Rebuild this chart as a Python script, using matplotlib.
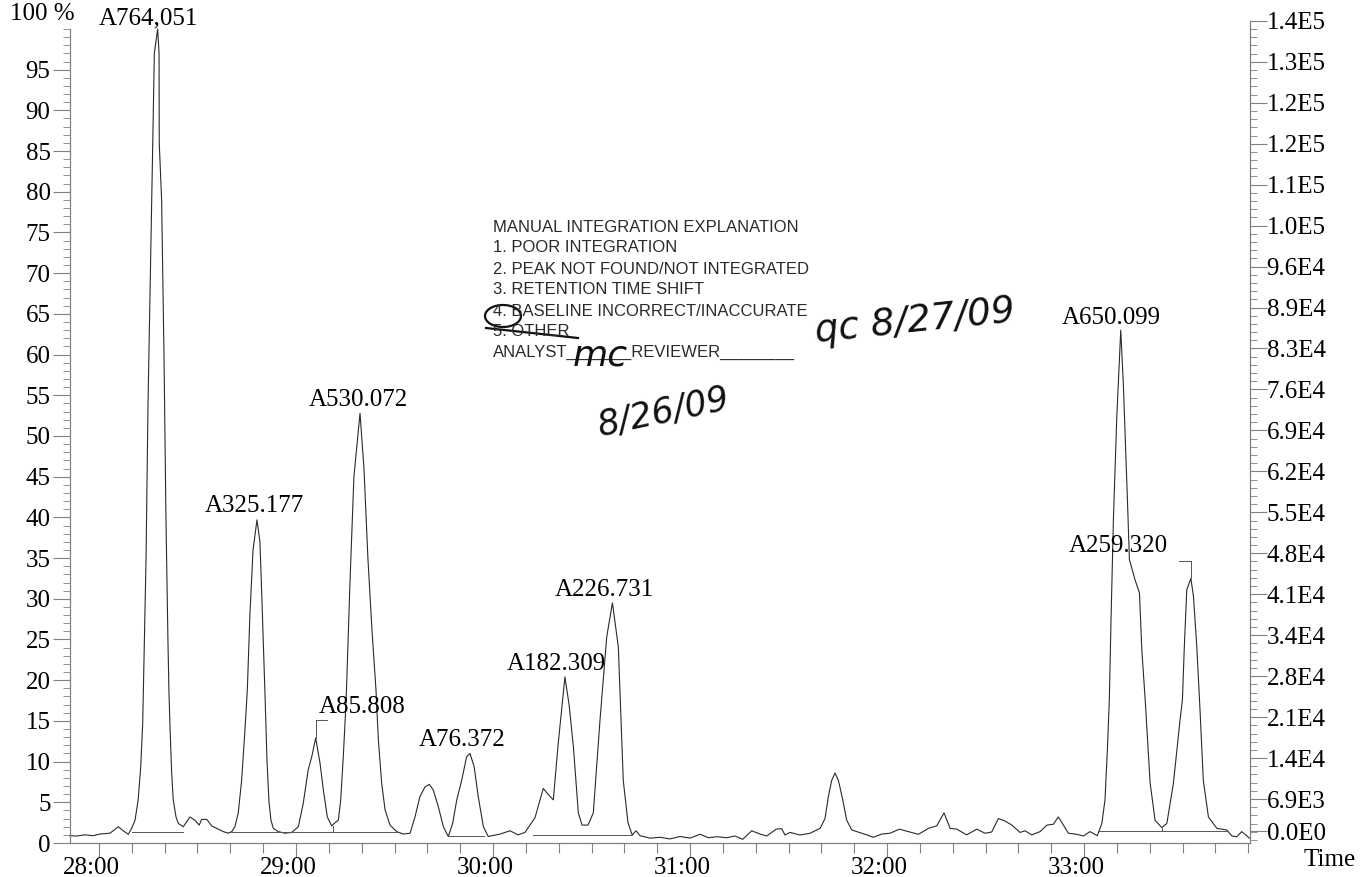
import numpy as np
import matplotlib
matplotlib.use("Agg")
import matplotlib.pyplot as plt
from matplotlib.patches import Ellipse
from matplotlib.transforms import ScaledTranslation

plt.rcParams['font.family'] = ['Liberation Serif', 'DejaVu Serif']

# chromatogram trace, time in minutes, intensity in % of the largest peak
time_min = [
    27.853, 27.887, 27.929, 27.971, 28.005, 28.056, 28.098, 28.123, 28.149, 28.166,
    28.183, 28.199, 28.212, 28.222, 28.239, 28.249, 28.268, 28.273, 28.281, 28.298,
    28.305, 28.306, 28.318, 28.330, 28.340, 28.350, 28.355, 28.360, 28.369, 28.377,
    28.391, 28.403, 28.428, 28.462, 28.487, 28.509, 28.521, 28.547, 28.572, 28.597,
    28.631, 28.656, 28.674, 28.690, 28.707, 28.724, 28.741, 28.753, 28.766, 28.782,
    28.802, 28.817, 28.827, 28.843, 28.853, 28.863, 28.873, 28.885, 28.910, 28.944,
    28.978, 29.012, 29.037, 29.062, 29.080, 29.100, 29.122, 29.139, 29.159, 29.181,
    29.198, 29.215, 29.227, 29.240, 29.254, 29.274, 29.294, 29.325, 29.345, 29.365,
    29.386, 29.406, 29.418, 29.435, 29.452, 29.477, 29.511, 29.545, 29.579, 29.604,
    29.629, 29.655, 29.677, 29.697, 29.722, 29.748, 29.773, 29.795, 29.816, 29.841,
    29.866, 29.883, 29.904, 29.925, 29.951, 29.976, 30.036, 30.086, 30.127, 30.162,
    30.213, 30.255, 30.279, 30.306, 30.330, 30.365, 30.386, 30.408, 30.433, 30.452,
    30.482, 30.509, 30.543, 30.577, 30.606, 30.636, 30.661, 30.685, 30.706, 30.726,
    30.746, 30.797, 30.848, 30.898, 30.949, 31.000, 31.051, 31.093, 31.135, 31.186,
    31.228, 31.267, 31.313, 31.355, 31.389, 31.437, 31.465, 31.482, 31.508, 31.558,
    31.609, 31.660, 31.685, 31.702, 31.719, 31.736, 31.753, 31.775, 31.795, 31.821,
    31.863, 31.897, 31.930, 31.973, 32.015, 32.062, 32.108, 32.159, 32.210, 32.252,
    32.289, 32.320, 32.354, 32.404, 32.455, 32.497, 32.531, 32.565, 32.599, 32.633,
    32.675, 32.700, 32.734, 32.777, 32.811, 32.844, 32.869, 32.895, 32.920, 32.963,
    32.996, 33.030, 33.067, 33.090, 33.106, 33.118, 33.128, 33.137, 33.149, 33.166,
    33.186, 33.199, 33.220, 33.230, 33.259, 33.281, 33.293, 33.310, 33.335, 33.360,
    33.394, 33.420, 33.453, 33.487, 33.499, 33.508, 33.521, 33.542, 33.555, 33.572,
    33.589, 33.605, 33.631, 33.674, 33.724, 33.750, 33.775, 33.800, 33.826, 33.839,
]
intensity = [
    0.9, 0.86, 1.0, 0.9, 1.1, 1.2, 2.0, 1.5, 1.07, 1.8,
    2.8, 5.3, 9.4, 14.7, 35.0, 54.0, 79.0, 86.0, 97.0, 100.0,
    97.0, 86.0, 79.0, 60.0, 40.0, 25.0, 18.8, 14.7, 8.6, 5.3,
    3.2, 2.4, 2.0, 3.2, 2.8, 2.2, 2.9, 2.9, 2.1, 1.8,
    1.4, 1.2, 1.4, 2.0, 3.7, 7.7, 13.9, 18.8, 28.0, 36.0,
    39.7, 37.0, 30.0, 18.0, 10.0, 5.0, 2.8, 1.8, 1.4, 1.2,
    1.3, 2.0, 4.9, 9.0, 10.6, 12.9, 9.8, 6.5, 3.2, 2.1,
    2.5, 2.8, 5.3, 10.6, 17.2, 32.0, 45.0, 52.8, 46.0, 35.0,
    26.0, 18.8, 12.7, 7.3, 4.1, 2.2, 1.4, 1.1, 1.2, 3.2,
    5.7, 6.9, 7.2, 6.5, 4.5, 2.0, 0.8, 2.4, 5.3, 7.7,
    10.6, 11.0, 9.4, 5.7, 2.0, 0.8, 1.1, 1.5, 1.0, 1.3,
    3.1, 6.7, 6.0, 5.3, 12.0, 20.4, 17.0, 11.8, 3.7, 2.2,
    2.2, 3.7, 15.1, 25.3, 29.5, 24.1, 7.7, 2.5, 1.0, 1.5,
    0.9, 0.6, 0.7, 0.5, 0.8, 0.6, 1.07, 0.65, 0.77, 0.65,
    0.86, 0.45, 1.5, 1.1, 0.86, 1.7, 1.76, 0.98, 1.3, 0.98,
    1.2, 1.8, 3.0, 5.7, 7.7, 8.6, 7.7, 5.3, 2.8, 1.6,
    1.27, 1.0, 0.7, 1.1, 1.2, 1.7, 1.4, 1.07, 1.8, 2.1,
    3.7, 1.8, 1.7, 1.0, 1.7, 1.2, 1.35, 3.0, 2.7, 2.2,
    1.3, 1.5, 1.0, 1.4, 2.2, 2.3, 3.2, 2.2, 1.2, 1.07,
    0.86, 1.4, 0.9, 2.4, 5.3, 11.4, 17.6, 27.8, 40.0, 52.4,
    63.0, 56.5, 42.1, 34.8, 32.3, 30.7, 23.7, 17.6, 7.4, 2.8,
    1.9, 2.4, 7.3, 15.1, 17.6, 23.7, 31.1, 32.5, 30.3, 24.1,
    16.0, 7.7, 3.2, 1.8, 1.6, 0.86, 0.77, 1.4, 0.86, 0.6,
]

# integration baselines: start, end, level
base_start = [28.166, 28.656, 29.777, 30.203, 33.073]
base_end = [28.428, 29.511, 29.955, 30.706, 33.724]
base_level = [1.4, 1.3, 0.9, 1.0, 1.5]
# perpendicular drops between merged peaks
drop_time = [29.186, 33.394]
drop_top = [2.1, 1.9]
drop_level = [1.3, 1.5]

peak_labels = ["A764,051", "A325.177", "A85.808", "A530.072", "A76.372",
               "A182.309", "A226.731", "A650.099", "A259.320"]
peak_times = [28.298, 28.802, 29.100, 29.325, 29.883, 30.365, 30.606, 33.186, 33.542]
peak_heights = [100.0, 39.7, 12.9, 52.8, 11.0, 20.4, 29.5, 63.0, 32.5]
# label offsets in pixels (dx, dy)
label_dx = [-9, -3, 46, -2, -8, -9, -8, -9, -73]
label_dy = [11, 14, 31, 13, 13, 13, 13, 12, 32]

right_labels = ["0.0E0", "6.9E3", "1.4E4", "2.1E4", "2.8E4", "3.4E4", "4.1E4",
                "4.8E4", "5.5E4", "6.2E4", "6.9E4", "7.6E4", "8.3E4", "8.9E4",
                "9.6E4", "1.0E5", "1.1E5", "1.2E5", "1.2E5", "1.3E5", "1.4E5"]

stamp_lines = ["MANUAL INTEGRATION EXPLANATION",
               "1. POOR INTEGRATION",
               "2. PEAK NOT FOUND/NOT INTEGRATED",
               "3. RETENTION TIME SHIFT",
               "4. BASELINE INCORRECT/INACCURATE",
               "5. OTHER",
               "ANALYST_______REVIEWER________"]

W, H = 1370, 877
fig = plt.figure(figsize=(W / 100, H / 100), dpi=100)
ax = fig.add_axes([70 / W, 34 / H, 1180 / W, 823 / H])
ax.set_xlim(27.853, 33.842)
ax.set_ylim(0, 101.1)

line_col = '#2a2a2a'
axis_col = '#808080'

ax.plot(time_min, intensity, color=line_col, lw=0.8, clip_on=False)
for s, e, lv in zip(base_start, base_end, base_level):
    ax.plot([s, e], [lv, lv], color='#555555', lw=0.7)
for t, top, lv in zip(drop_time, drop_top, drop_level):
    ax.plot([t, t], [top, lv], color='#555555', lw=0.7)

# peak labels
for i, lab in enumerate(peak_labels):
    ax.annotate(lab, xy=(peak_times[i], peak_heights[i]),
                xytext=(label_dx[i], label_dy[i]), textcoords='offset pixels',
                ha='center', va='center', fontsize=18, annotation_clip=False)

# small brackets joining the offset labels to their peaks
for i in (2, 8):
    t, h = peak_times[i], peak_heights[i]
    side = 1 if label_dx[i] > 0 else -1
    top = h + 2.2
    ax.plot([t, t], [h, top], color='#555555', lw=0.7)
    ax.plot([t, t + side * 0.058], [top, top], color='#555555', lw=0.7)

# spines
ax.spines['top'].set_visible(False)
for side in ['left', 'right', 'bottom']:
    ax.spines[side].set_color(axis_col)
    ax.spines[side].set_linewidth(0.9)
ax.spines['left'].set_bounds(0, 100)
ax.spines['right'].set_bounds(0, 101.0)

# left axis
ax.set_yticks(np.arange(0, 100, 5))
ax.set_yticklabels([str(v) for v in range(0, 100, 5)])
ax.set_yticks(np.arange(0, 101, 1), minor=True)
ax.tick_params(axis='y', which='major', length=12, width=0.8, color=axis_col,
               labelsize=18, pad=2)
ax.tick_params(axis='y', which='minor', length=5, width=0.6, color=axis_col)
fig.text(10 / W, 1 - 14 / H, "100 %", fontsize=18, ha='left', va='center')

# x axis
ax.set_xticks([28, 29, 30, 31, 32, 33])
ax.set_xticklabels(["28:00", "29:00", "30:00", "31:00", "32:00", "33:00"])
ax.set_xticks(np.arange(28, 33.85, 1 / 6), minor=True)
ax.tick_params(axis='x', which='major', length=10, width=0.8, color=axis_col,
               labelsize=18, pad=0)
ax.tick_params(axis='x', which='minor', length=7, width=0.8, color=axis_col)
for lab in ax.get_xticklabels():
    lab.set_transform(lab.get_transform() + ScaledTranslation(-8 / 100, 0, fig.dpi_scale_trans))
fig.text(1303 / W, 1 - 860 / H, "Time", fontsize=18, ha='left', va='center')

# right axis
ax2 = ax.twinx()
ax2.set_ylim(ax.get_ylim())
for side in ['top', 'left', 'bottom', 'right']:
    ax2.spines[side].set_visible(False)
right_pos = [1.47] + list(np.linspace(5.4, 101.0, 20))
ax2.set_yticks(right_pos)
ax2.set_yticklabels(right_labels)
minor_r = np.linspace(5.4 - 5.032, 101.0, 101)
ax2.set_yticks(minor_r, minor=True)
ax2.tick_params(axis='y', which='major', length=12, width=0.8, color=axis_col,
                labelsize=18, pad=0)
ax2.tick_params(axis='y', which='minor', length=5, width=0.6, color=axis_col)

# review stamp
stamp_y = [228, 248, 270, 290, 311, 331, 352]
for txt, yy in zip(stamp_lines, stamp_y):
    fig.text(493 / W, 1 - yy / H, txt, fontsize=12, color='#2a2a2a',
             family='Liberation Sans', ha='left', va='center')

# handwritten marks
hand = dict(family='DejaVu Sans', style='italic', color='#111111', weight='light')
fig.text(600 / W, 1 - 356 / H, "mc", fontsize=26, ha='center', va='center', **hand)
fig.text(664 / W, 1 - 412 / H, "8/26/09", fontsize=25, ha='center', va='center',
         rotation=12, **hand)
fig.text(915 / W, 1 - 322 / H, "qc 8/27/09", fontsize=27, ha='center', va='center',
         rotation=6, **hand)
fig.add_artist(Ellipse((503 / W, 1 - 316 / H), 36 / W, 22 / H, fill=False,
                       lw=1.6, color='#111111', transform=fig.transFigure))
fig.add_artist(plt.Line2D([486 / W, 578 / W], [1 - 328 / H, 1 - 338 / H],
                          lw=1.6, color='#111111', transform=fig.transFigure))

fig.savefig("out.png", dpi=100)
